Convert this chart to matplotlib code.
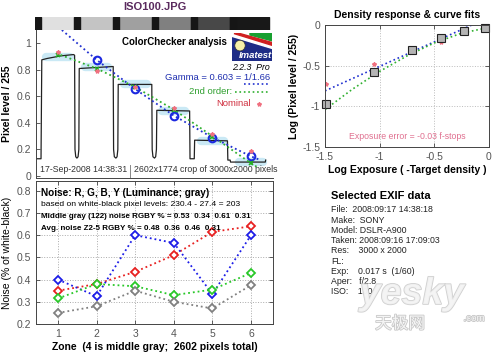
import matplotlib
matplotlib.use("Agg")
import matplotlib.pyplot as plt
from matplotlib.lines import Line2D
from matplotlib.patches import Rectangle, Polygon, Ellipse
import matplotlib.patheffects as pe

plt.rcParams["font.family"] = ["Liberation Sans", "DejaVu Sans"]

# ----------------------------------------------------------
# DATA
# ----------------------------------------------------------
zones = [1, 2, 3, 4, 5, 6]
zone_labels = ["1", "2", "3", "4", "5", "6"]

# gray patch strip above the profile (light -> dark)
strip_shades = ["#e0e0e0", "#c4c4c4", "#a0a0a0", "#808080", "#484848", "#181818"]

# pixel-level profile across the zones (zone units, level / 255)
profile_z = [0.45, 0.56, 0.58, 0.71, 1.07, 1.40, 1.43, 1.44, 1.46, 1.49, 1.52, 1.54, 1.55,
             2.43, 2.44, 2.46, 2.50, 2.53, 2.55, 2.56,
             3.43, 3.44, 3.46, 3.50, 3.53, 3.55, 3.56,
             4.41, 4.42, 4.53, 4.54, 5.39, 5.40, 5.46, 5.47, 6.37, 6.38]
profile_lvl = [0.13, 0.13, 0.875, 0.885, 0.905, 0.915, 0.91, 0.2, 0.145, 0.135, 0.145, 0.2, 0.81,
               0.825, 0.2, 0.145, 0.135, 0.145, 0.2, 0.69,
               0.69, 0.2, 0.145, 0.135, 0.145, 0.2, 0.495,
               0.49, 0.13, 0.13, 0.27, 0.265, 0.12, 0.12, 0.105, 0.105, 0.12]

step_levels = [0.90, 0.818, 0.69, 0.492, 0.266, 0.105]
measured = [0.913, 0.808, 0.67, 0.50, 0.297, 0.096]
gamma_zones = [2, 3, 4, 5, 6]
gamma_pts = [0.875, 0.655, 0.45, 0.285, 0.148]
nominal = [0.938, 0.79, 0.67, 0.51, 0.32, 0.19]

gamma_fit_z = [1.1, 2, 3, 4, 5, 6, 6.2]
gamma_fit = [1.10, 0.875, 0.655, 0.455, 0.29, 0.148, 0.125]
order2_fit_z = [0.95, 2, 3, 4, 5, 6, 6.2]
order2_fit = [0.925, 0.81, 0.67, 0.50, 0.30, 0.096, 0.06]

# noise (% of white-black) per zone
noise_r = [0.35, 0.38, 0.435, 0.51, 0.615, 0.64]
noise_g = [0.315, 0.38, 0.37, 0.33, 0.355, 0.43]
noise_b = [0.40, 0.325, 0.60, 0.565, 0.335, 0.60]
noise_y = [0.25, 0.28, 0.35, 0.30, 0.27, 0.375]

# density response
log_exp = [-1.49, -1.05, -0.70, -0.44, -0.23, -0.04]
log_lvl = [-0.975, -0.58, -0.31, -0.155, -0.074, -0.033]
log_nominal = [-0.72, -0.48, -0.30, -0.205, -0.08, -0.03]
dens_gamma_x = [-1.5, -0.157]
dens_gamma_y = [-0.81, 0.0]
dens_order2_x = [-1.5, -1.25, -1.0, -0.75, -0.5, -0.25, 0.0]
dens_order2_y = [-1.04, -0.79, -0.57, -0.38, -0.22, -0.10, -0.03]

exif_lines = [
    "File:  2008:09:17 14:38:18",
    "Make:  SONY",
    "Model: DSLR-A900",
    "Taken: 2008:09:16 17:09:03",
    "Res:    3000 x 2000",
    "FL:",
    "Exp:    0.017 s  (1/60)",
    "Aper:   f/2.8",
    "ISO:    100",
]

W, H = 500, 352
TICK = "#555555"


def fx(x):
    return x / W


def fy(y):
    return 1 - y / H


def style_axes(ax):
    ax.tick_params(direction="in", length=3, width=0.6, labelsize=7.5,
                   labelcolor=TICK, color="#444444", top=True, right=True)
    for s in ax.spines.values():
        s.set_color("#444444")
        s.set_linewidth(0.7)


fig = plt.figure(figsize=(5, 3.52), dpi=100)

# ----------------------------------------------------------
# TITLE + PATCH STRIP
# ----------------------------------------------------------
fig.text(fx(155), fy(7), "ISO100.JPG", ha="center", va="center",
         fontsize=8, fontweight="bold", color="#5a2a5e")

ax_strip = fig.add_axes([fx(35), fy(30), fx(238), 13 / H])
for i, c in enumerate(strip_shades):
    ax_strip.add_patch(Rectangle((i, 0), 1, 1, color=c))
    ax_strip.add_patch(Rectangle((i, 0), 0.15, 1, color="#161616"))
ax_strip.set_xlim(0, 6.1)
ax_strip.set_ylim(0, 1)
ax_strip.axis("off")

# ----------------------------------------------------------
# TOP-LEFT: PIXEL LEVEL PROFILE
# ----------------------------------------------------------
ax1 = fig.add_axes([fx(36), fy(178), fx(237), 148 / H])
style_axes(ax1)
ax1.spines["top"].set_visible(False)
ax1.spines["right"].set_visible(False)
ax1.tick_params(top=False, right=False, bottom=False, labelbottom=False)

for z, lv in zip(zones, step_levels):
    ax1.plot([z - 0.3, z + 0.3], [lv, lv], color="#9fd8ee", lw=6,
             alpha=0.55, solid_capstyle="round")
ax1.plot(profile_z, profile_lvl, color="#222222", lw=0.9)
ax1.plot(gamma_fit_z, gamma_fit, ls=":", color="#2030d0", lw=1.3)
ax1.plot(order2_fit_z, order2_fit, ls=":", color="#30b030", lw=1.3)
ax1.plot(gamma_zones, gamma_pts, "o", ms=5.5, mfc="none", mec="#1c28e0", mew=1.5)
ax1.plot(zones, measured, "x", ms=3.5, color="#20b020", mew=1.2)
ax1.plot(zones, nominal, "*", ms=3, color="#f07080")
ax1.axvline(2.87, ymin=0, ymax=0.09, color="#888888", lw=0.7)

ax1.set_xlim(0.43, 6.57)
ax1.set_ylim(-0.015, 1.1)
ax1.set_yticks([0, 0.2, 0.4, 0.6, 0.8, 1])
ax1.set_yticklabels(["0", "0.2", "0.4", "0.6", "0.8", "1"])
ax1.set_ylabel("Pixel level / 255", fontsize=7.5, fontweight="bold", labelpad=3)

fig.text(fx(122), fy(42), "ColorChecker analysis", fontsize=7,
         fontweight="bold", va="center")
fig.text(fx(40), fy(170), "17-Sep-2008 14:38:31", fontsize=6.3,
         color="#333333", va="center")
fig.text(fx(134), fy(170), "2602x1774 crop of 3000x2000 pixels", fontsize=6.3,
         color="#333333", va="center")
fig.text(fx(270), fy(67), "2.2.3  Pro", fontsize=6.3, style="italic",
         ha="right", va="center")
fig.text(fx(270), fy(78), "Gamma = 0.603 = 1/1.66", fontsize=6.8,
         color="#2030b0", ha="right", va="center")
fig.add_artist(Line2D([fx(244), fx(270)], [fy(84), fy(84)], ls=":",
                      color="#2030d0", lw=1.2))
fig.text(fx(232), fy(92), "2nd order:", fontsize=6.8, color="#30a030",
         ha="right", va="center")
fig.add_artist(Line2D([fx(235), fx(270)], [fy(92), fy(92)], ls=":",
                      color="#30b030", lw=1.2))
fig.text(fx(251), fy(104), "Nominal", fontsize=6.8, color="#d03040",
         ha="right", va="center")
fig.add_artist(Line2D([fx(259)], [fy(104)], marker="*", ms=3, color="#f07080"))

# Imatest logo
ax_logo = fig.add_axes([fx(232), fy(61), fx(40), 28 / H])
ax_logo.set_xlim(0, 1)
ax_logo.set_ylim(0, 1)
ax_logo.axis("off")
ax_logo.add_patch(Rectangle((0, 0), 1, 1, color="#1e2c86"))
ax_logo.add_patch(Polygon([(0, 1), (1, 1), (1, 0.45), (0, 0.88)], color="white"))
ax_logo.add_patch(Polygon([(0.45, 1), (1, 1), (1, 0.72), (0.45, 0.93)], color="#18a030"))
ax_logo.add_patch(Polygon([(0.05, 0.98), (0.2, 0.98), (1, 0.66), (1, 0.56)], color="#d02020"))
ax_logo.add_patch(Ellipse((0.2, 0.55), 0.26, 0.38, fc="#f6f0a8", ec="#333333", lw=0.5))
ax_logo.text(0.58, 0.18, "Imatest", color="white", fontsize=6.8,
             fontweight="bold", style="italic", ha="center", va="center")

# ----------------------------------------------------------
# BOTTOM-LEFT: NOISE
# ----------------------------------------------------------
ax2 = fig.add_axes([fx(36), fy(324), fx(237), 143 / H])
style_axes(ax2)
ax2.grid(True, ls=":", color="#aaaaaa", lw=0.7)
for vals, col in [(noise_r, "#e82020"), (noise_b, "#1c1ce8"),
                  (noise_g, "#28c828"), (noise_y, "#808080")]:
    ax2.plot(zones, vals, ls=":", color=col, lw=1.3, marker="D", ms=4.5,
             mfc="white", mec=col, mew=1.3)
ax2.set_xlim(0.43, 6.57)
ax2.set_ylim(0.2, 0.844)
ax2.set_xticks(zones)
ax2.set_xticklabels(zone_labels)
ax2.set_yticks([0.2, 0.3, 0.4, 0.5, 0.6, 0.7, 0.8])
ax2.set_yticklabels(["0.2", "0.3", "0.4", "0.5", "0.6", "0.7", "0.8"])
ax2.set_xlabel("Zone  (4 is middle gray;  2602 pixels total)", fontsize=7.5,
               fontweight="bold", labelpad=2)
ax2.set_ylabel("Noise (% of white-black)", fontsize=7.5, labelpad=3)

fig.text(fx(41), fy(193), "Noise: R, G, B, Y (Luminance; gray)", fontsize=7.2,
         fontweight="bold", va="center")
fig.text(fx(41), fy(205), "based on white-black pixel levels: 230.4 - 27.4 = 203",
         fontsize=6.1, va="center")
fig.text(fx(41), fy(217), "Middle gray (122) noise RGBY % = 0.53  0.34  0.61  0.31",
         fontsize=5.8, fontweight="bold", va="center")
fig.text(fx(41), fy(228), "Avg. noise Z2-5 RGBY % = 0.48  0.36  0.46  0.31",
         fontsize=5.8, fontweight="bold", va="center")

# ----------------------------------------------------------
# TOP-RIGHT: DENSITY RESPONSE
# ----------------------------------------------------------
ax3 = fig.add_axes([fx(325), fy(147), fx(164), 122 / H])
style_axes(ax3)
ax3.grid(True, ls=":", color="#bbbbbb", lw=0.7)
ax3.plot(dens_gamma_x, dens_gamma_y, ls=":", color="#2030d0", lw=1.2)
ax3.plot(dens_order2_x, dens_order2_y, ls=":", color="#30b030", lw=1.2)
ax3.plot(log_exp, log_nominal, "*", ms=3, color="#f07080")
ax3.plot(log_exp, log_lvl, "s", ms=5.5, mfc="#b4b4b4", mec="#222222", mew=0.8,
         clip_on=False)
ax3.set_xlim(-1.5, 0)
ax3.set_ylim(-1.5, 0)
ax3.set_xticks([-1.5, -1, -0.5, 0])
ax3.set_xticklabels(["-1.5", "-1", "-0.5", "0"])
ax3.set_yticks([-1.5, -1, -0.5, 0])
ax3.set_yticklabels(["-1.5", "-1", "-0.5", "0"])
ax3.set_title("Density response & curve fits", fontsize=7.5, fontweight="bold", pad=5)
ax3.set_xlabel("Log Exposure ( -Target density )", fontsize=7.5,
               fontweight="bold", labelpad=2)
ax3.set_ylabel("Log (Pixel level / 255)", fontsize=7.5, fontweight="bold", labelpad=2)
ax3.text(-0.75, -1.37, "Exposure error = -0.03 f-stops", fontsize=6.3,
         color="#e07090", ha="center", va="center")

# ----------------------------------------------------------
# EXIF BLOCK + WATERMARK
# ----------------------------------------------------------
fig.text(fx(331), fy(196), "Selected EXIF data", fontsize=8,
         fontweight="bold", va="center")
for i, line in enumerate(exif_lines):
    fig.text(fx(331), fy(210 + i * 10.2), line, fontsize=6.3, va="center",
             color="#222222")

halo = [pe.withStroke(linewidth=1.2, foreground="#c8c8c8")]
fig.text(fx(412), fy(294), "yesky", fontsize=27, fontweight="bold", style="italic",
         color="#f4f4f4", ha="center", va="center", path_effects=halo, alpha=0.85)
fig.text(fx(474), fy(318), ".com", fontsize=7, color="#f4f4f4", ha="center",
         va="center", path_effects=halo)
fig.text(fx(400), fy(324), "天极网", fontsize=12, color="#f4f4f4", ha="center",
         va="center", family=["Noto Sans CJK SC", "DejaVu Sans"],
         path_effects=halo)

fig.savefig("out.png", dpi=100)
